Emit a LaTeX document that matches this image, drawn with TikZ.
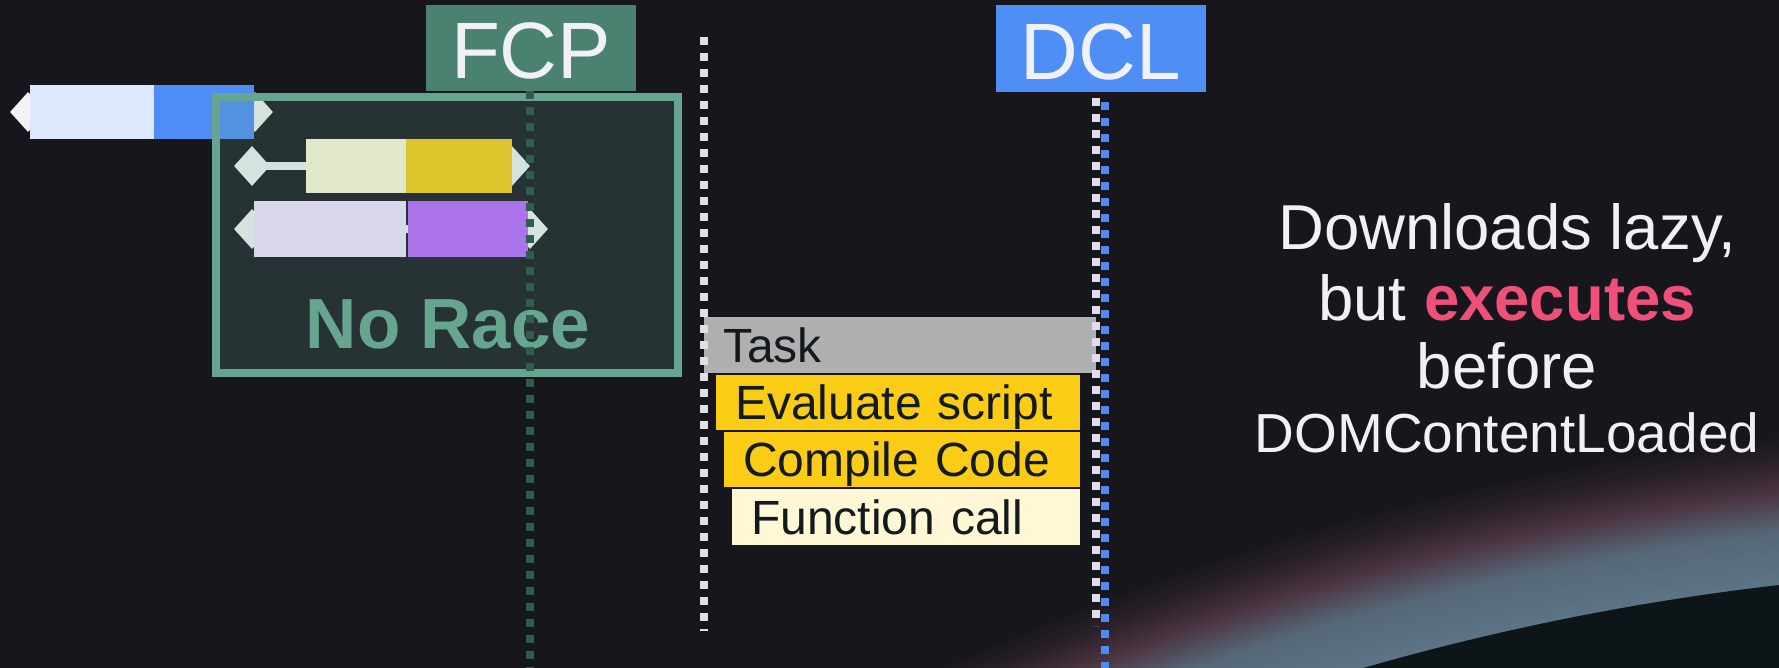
\documentclass[tikz,border=0pt]{standalone}
\usepackage{fontspec}
\setmainfont{Liberation Sans}
\usetikzlibrary{shapes.geometric}

\definecolor{bgc}{HTML}{17161C}
\definecolor{planetc}{HTML}{0D1519}
\definecolor{glowblue}{HTML}{5C7486}
\definecolor{glowbluetwo}{HTML}{566878}
\definecolor{glowpink}{HTML}{4C3644}
\definecolor{glowfade}{HTML}{2A2029}
\definecolor{txtc}{HTML}{F0F0F5}
\definecolor{fcpc}{HTML}{4B8170}
\definecolor{dclc}{HTML}{4E8EF5}
\definecolor{racec}{HTML}{66A690}
\definecolor{fcpdot}{HTML}{2F5C4D}
\definecolor{wdot}{HTML}{E0DEE8}
\definecolor{bdot}{HTML}{4A8CF0}
\definecolor{capc}{HTML}{F2F2F2}
\definecolor{capin}{HTML}{D5E2DF}
\definecolor{ltblue}{HTML}{DDE8FE}
\definecolor{netblue}{HTML}{4E8DF5}
\definecolor{ltyel}{HTML}{E0E8C8}
\definecolor{yel}{HTML}{DCC42C}
\definecolor{ltlav}{HTML}{D8D6EA}
\definecolor{purp}{HTML}{AC74EA}
\definecolor{taskc}{HTML}{B0B0B0}
\definecolor{evalc}{HTML}{FACC15}
\definecolor{funcc}{HTML}{FFF7D6}
\definecolor{bartxt}{HTML}{121A1E}
\definecolor{hot}{HTML}{EF5079}

% atmosphere glow around the planet rim (25bp = outer edge of the glow)
\pgfdeclareradialshading{atmosphere}{\pgfpointorigin}{%
  color(0bp)=(planetc); color(23.63bp)=(glowblue); color(24.10bp)=(glowbluetwo);
  color(24.45bp)=(glowpink); color(24.75bp)=(glowfade); color(25bp)=(bgc); color(50bp)=(bgc)}

\begin{document}
\begin{tikzpicture}[x=1pt,y=-1pt,
  tag/.style={rectangle, inner sep=0pt, minimum width=210pt, minimum height=86pt,
    text=txtc, font=\fontsize{80}{90}\selectfont, text height=62pt, text depth=0pt},
  endcap/.style={diamond, inner sep=0pt, minimum width=36pt, minimum height=40pt},
  seg/.style={rectangle, inner sep=0pt},
  stem/.style={line width=8pt},
  slice/.style={rectangle, anchor=west, inner xsep=19pt, inner ysep=0pt,
    text width=#1, align=left, minimum height=55pt, text=bartxt,
    font=\fontsize{48}{56}\selectfont, text height=34pt, text depth=0pt},
  fcpdots/.style={draw=fcpdot, line width=8pt, dash pattern=on 8pt off 8pt},
  wdots/.style={draw=wdot, line width=8pt, dash pattern=on 8pt off 8pt},
  bdots/.style={draw=bdot, line width=8pt, dash pattern=on 8pt off 8pt},
  say/.style={text=txtc, font=\fontsize{63.5}{70}\selectfont, anchor=base, inner sep=0pt},
  racefill/.style={rectangle, inner sep=0pt, minimum width=462pt, minimum height=276pt,
    fill=racec, fill opacity=0.2},
  raceline/.style={draw=racec, line width=8pt}
]
\path[use as bounding box, fill=bgc] (0,0) rectangle (1779,668);

% planet with its glowing rim
\begin{scope}
  \clip (0,0) rectangle (1779,668);
  \shade[shading=atmosphere] (2077,3148) circle (2730pt);
  \fill[planetc] (2077,3148) circle (2580pt);
\end{scope}

% first request bar
\node[endcap, fill=capc] (c1l) at (28,112) {};
\node[endcap, fill=capc] (c1r) at (255,112) {};
\node[seg, fill=ltblue, minimum width=124pt, minimum height=54pt] (b1a) at (92,112) {};
\node[seg, fill=netblue, minimum width=100pt, minimum height=54pt] (b1b) at (204,112) {};

% "No Race" panel
\node[racefill] (race) at (447,235) {};

% second request bar
\node[endcap, fill=capin] (c2l) at (252,166) {};
\node[endcap, fill=capin] (c2r) at (512,166) {};
\node[seg, fill=ltyel, minimum width=100pt, minimum height=54pt] (b2a) at (356,166) {};
\node[seg, fill=yel, minimum width=106pt, minimum height=54pt] (b2b) at (459,166) {};
\draw[stem, capin] (c2l.center) -- (b2a.west);

% third request bar
\node[endcap, fill=capin] (c3l) at (252,229) {};
\node[endcap, fill=capin] (c3r) at (530,229) {};
\draw[stem, capin] (c3l.center) -- (c3r.center);
\node[seg, fill=ltlav, minimum width=152pt, minimum height=56pt] (b3a) at (330,229) {};
\node[seg, fill=purp, minimum width=120pt, minimum height=56pt] (b3b) at (468,229) {};

\draw[raceline] (race.north west) rectangle (race.south east);
\node[text=racec, font=\bfseries\fontsize{71}{80}\selectfont, anchor=base, inner sep=0pt]
  (norace) at (448,348) {No Race};

% FCP marker
\node[tag, fill=fcpc] (fcp) at (531,48) {FCP};
\coordinate (fcpbot) at (530,668);
\draw[fcpdots] (fcp.south -| fcpbot) -- (fcpbot);

% main-thread task stack
\node[slice=354pt, fill=taskc, minimum height=56pt] (task) at (704,345) {Task};
\node[slice=326pt, fill=evalc] (eval) at (716,402.5) {Evaluate script};
\node[slice=318pt, fill=evalc] (comp) at (724,459.5) {Compile Code};
\node[slice=310pt, fill=funcc, minimum height=56pt] (func) at (732,517) {Function call};

% task boundaries
\coordinate (mtop) at (704,37);
\coordinate (mbot) at (704,631);
\draw[wdots] (mtop) -- (mbot);

% DCL marker
\node[tag, fill=dclc, minimum height=87pt] (dcl) at (1101,48.5) {DCL};
\coordinate (dwtop) at (1096,98);
\coordinate (dwbot) at (1096,626);
\coordinate (dbtop) at (1105,102);
\coordinate (dbbot) at (1105,668);
\draw[wdots] (dwtop) -- (dwbot);
\draw[bdots] (dbtop) -- (dbbot);

% caption
\node[say] (l1) at (1507,250) {Downloads lazy,};
\node[say] (l2) at (1507,320) {but \textbf{\textcolor{hot}{executes}}};
\node[say] (l3) at (1507,388) {before};
\node[say, font=\fontsize{55}{60}\selectfont] (l4) at (1507,452) {DOMContentLoaded};
\end{tikzpicture}
\end{document}
